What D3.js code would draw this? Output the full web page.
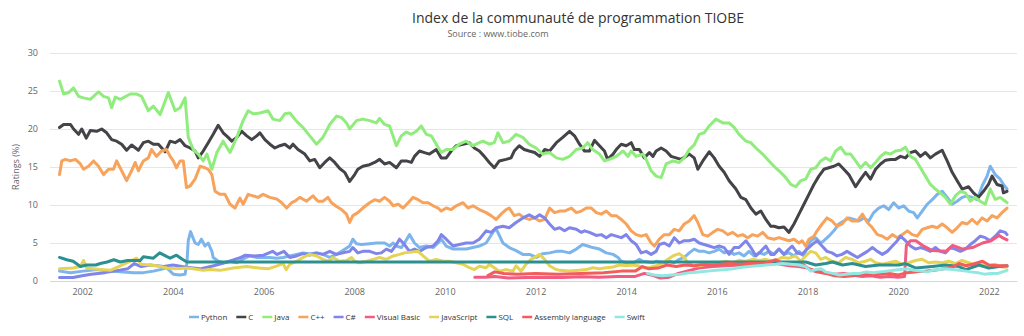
<!DOCTYPE html>
<html>
<head>
<meta charset="utf-8">
<script src="https://cdnjs.cloudflare.com/ajax/libs/d3/7.8.5/d3.min.js"></script>
<style>
  body { margin: 0; background: #fff; }
  text { font-family: "Open Sans", sans-serif; }
</style>
</head>
<body>
<svg id="chart" width="1024" height="336"></svg>
<script>
// TIOBE ratings (%) per language, [decimal year, rating]
var python = [[2001.50,1.3],[2001.74,1.1],[2002.03,1.3],[2002.32,1.5],[2002.62,1.3],[2002.91,1.2],[2003.13,1.1],[2003.35,1.1],[2003.57,1.3],[2003.72,1.5],[2003.86,1.75],[2003.94,1.3],[2004.01,0.9],[2004.15,0.8],[2004.27,0.9],[2004.31,2.4],[2004.34,5.3],[2004.39,6.5],[2004.49,5.0],[2004.56,4.8],[2004.63,5.5],[2004.71,4.6],[2004.78,5.0],[2004.86,3.9],[2004.89,3.1],[2005.00,2.6],[2005.11,2.4],[2005.26,2.6],[2005.41,2.4],[2005.55,2.9],[2005.70,3.3],[2005.85,3.1],[2005.99,3.1],[2006.14,3.1],[2006.29,3.0],[2006.43,3.1],[2006.58,3.3],[2006.73,3.5],[2006.87,3.7],[2007.02,3.6],[2007.17,3.7],[2007.31,3.5],[2007.46,3.1],[2007.61,3.5],[2007.75,4.0],[2007.90,4.6],[2007.97,5.5],[2008.05,4.9],[2008.16,4.8],[2008.34,4.9],[2008.49,5.0],[2008.67,5.0],[2008.78,4.6],[2008.86,5.0],[2008.93,4.6],[2009.04,4.4],[2009.11,5.0],[2009.22,6.1],[2009.33,5.0],[2009.44,4.4],[2009.59,4.6],[2009.74,4.4],[2009.85,5.0],[2009.92,5.5],[2010.03,4.6],[2010.18,4.2],[2010.32,4.2],[2010.47,4.2],[2010.62,4.4],[2010.76,4.6],[2010.91,5.0],[2011.06,6.4],[2011.13,6.9],[2011.28,5.0],[2011.42,4.4],[2011.57,4.0],[2011.72,3.5],[2011.87,3.5],[2012.02,3.1],[2012.16,3.6],[2012.31,3.7],[2012.46,3.9],[2012.60,3.9],[2012.75,3.7],[2012.90,4.2],[2013.04,4.8],[2013.15,4.6],[2013.26,4.4],[2013.41,4.2],[2013.56,3.7],[2013.71,3.5],[2013.82,3.1],[2013.89,2.6],[2014.00,2.4],[2014.11,2.2],[2014.22,2.6],[2014.29,2.85],[2014.37,2.6],[2014.48,2.5],[2014.59,2.4],[2014.66,2.6],[2014.77,2.5],[2014.88,2.4],[2014.95,2.6],[2015.06,2.4],[2015.17,2.85],[2015.28,3.1],[2015.39,3.7],[2015.50,4.2],[2015.61,3.9],[2015.72,3.9],[2015.83,3.7],[2015.94,3.9],[2016.05,4.2],[2016.16,3.7],[2016.27,3.9],[2016.38,3.5],[2016.49,3.7],[2016.60,3.3],[2016.71,3.9],[2016.82,3.3],[2016.93,3.7],[2017.04,3.5],[2017.15,3.9],[2017.26,3.5],[2017.37,4.2],[2017.48,3.5],[2017.59,3.7],[2017.70,3.3],[2017.81,3.9],[2017.92,3.3],[2017.99,4.4],[2018.07,5.3],[2018.18,5.7],[2018.29,5.0],[2018.36,5.3],[2018.47,5.9],[2018.58,6.6],[2018.69,7.5],[2018.80,7.9],[2018.91,8.3],[2019.02,8.1],[2019.13,7.9],[2019.24,8.3],[2019.35,7.9],[2019.46,9.0],[2019.57,9.6],[2019.68,9.9],[2019.79,9.4],[2019.90,10.3],[2020.01,9.6],[2020.12,9.9],[2020.23,9.2],[2020.34,9.0],[2020.42,8.3],[2020.53,9.2],[2020.64,10.1],[2020.75,10.7],[2020.86,11.4],[2020.97,11.8],[2021.08,11.0],[2021.19,10.1],[2021.30,10.5],[2021.41,11.0],[2021.52,11.2],[2021.63,11.0],[2021.74,10.7],[2021.85,12.5],[2021.96,13.8],[2022.03,15.1],[2022.14,14.0],[2022.25,13.4],[2022.32,12.7],[2022.40,12.1]];

var langC = [[2001.50,20.2],[2001.59,20.6],[2001.74,20.6],[2001.81,20.0],[2001.92,19.3],[2001.99,20.0],[2002.09,18.8],[2002.18,19.8],[2002.32,19.7],[2002.43,20.0],[2002.54,19.5],[2002.65,18.6],[2002.76,18.4],[2002.87,18.0],[2002.98,17.2],[2003.09,17.9],[2003.24,17.2],[2003.35,18.2],[2003.46,18.4],[2003.57,18.0],[2003.68,18.0],[2003.83,17.0],[2003.94,18.4],[2004.05,18.2],[2004.16,18.6],[2004.27,17.8],[2004.38,17.5],[2004.49,17.1],[2004.56,16.2],[2004.67,17.1],[2004.78,18.2],[2004.89,19.3],[2005.00,20.5],[2005.11,19.5],[2005.22,18.9],[2005.30,18.4],[2005.41,18.9],[2005.52,19.7],[2005.63,19.1],[2005.74,18.6],[2005.85,19.1],[2005.92,19.5],[2006.03,18.6],[2006.14,18.0],[2006.25,17.5],[2006.36,17.8],[2006.47,18.0],[2006.58,17.5],[2006.65,18.0],[2006.76,17.3],[2006.91,16.7],[2007.02,15.8],[2007.13,16.0],[2007.24,14.9],[2007.35,15.6],[2007.46,16.2],[2007.57,15.6],[2007.68,14.8],[2007.79,14.3],[2007.90,13.1],[2008.01,14.0],[2008.08,14.7],[2008.19,15.1],[2008.34,15.3],[2008.45,15.6],[2008.56,16.0],[2008.67,15.4],[2008.78,15.6],[2008.93,14.9],[2009.04,15.8],[2009.15,15.8],[2009.26,15.6],[2009.33,16.4],[2009.44,17.1],[2009.55,16.9],[2009.66,16.7],[2009.81,17.3],[2009.92,16.2],[2010.03,16.2],[2010.14,17.1],[2010.25,17.8],[2010.40,18.0],[2010.54,18.2],[2010.65,17.5],[2010.76,17.1],[2010.87,16.4],[2010.98,15.6],[2011.09,14.9],[2011.20,15.8],[2011.35,16.0],[2011.46,16.2],[2011.53,17.1],[2011.64,17.8],[2011.75,17.3],[2011.86,17.1],[2011.98,16.9],[2012.09,16.4],[2012.20,17.3],[2012.31,17.1],[2012.46,18.2],[2012.60,18.9],[2012.75,19.7],[2012.86,19.1],[2012.97,18.0],[2013.08,17.1],[2013.19,17.1],[2013.30,18.5],[2013.41,17.8],[2013.52,17.1],[2013.59,16.0],[2013.71,16.7],[2013.78,17.3],[2013.89,18.0],[2014.00,17.8],[2014.11,18.2],[2014.18,17.3],[2014.29,17.3],[2014.40,16.2],[2014.51,16.9],[2014.59,16.4],[2014.66,17.1],[2014.77,17.5],[2014.88,17.1],[2014.99,16.4],[2015.10,16.2],[2015.21,16.0],[2015.32,16.4],[2015.39,16.7],[2015.50,16.2],[2015.58,14.7],[2015.69,15.8],[2015.83,17.0],[2015.94,16.2],[2016.05,15.1],[2016.16,14.3],[2016.27,13.2],[2016.42,12.1],[2016.53,11.0],[2016.64,10.7],[2016.75,9.6],[2016.86,8.8],[2016.97,9.2],[2017.08,8.1],[2017.19,7.2],[2017.26,7.2],[2017.37,7.0],[2017.48,7.1],[2017.59,6.4],[2017.70,7.5],[2017.81,8.8],[2017.92,10.1],[2018.03,11.4],[2018.14,12.7],[2018.25,13.8],[2018.36,14.7],[2018.47,14.9],[2018.58,15.1],[2018.69,15.4],[2018.80,14.7],[2018.91,14.0],[2019.06,12.4],[2019.17,13.4],[2019.28,14.3],[2019.39,13.4],[2019.50,14.7],[2019.61,15.4],[2019.72,15.9],[2019.83,16.0],[2019.94,16.0],[2020.05,16.4],[2020.16,16.2],[2020.27,16.9],[2020.38,17.1],[2020.49,16.4],[2020.60,16.9],[2020.71,16.2],[2020.82,16.7],[2020.97,17.2],[2021.08,15.8],[2021.19,14.3],[2021.30,13.2],[2021.41,12.1],[2021.55,12.4],[2021.66,11.6],[2021.77,11.0],[2021.88,11.8],[2021.99,12.7],[2022.07,13.8],[2022.18,12.7],[2022.29,12.5],[2022.32,11.6],[2022.40,11.8]];

var java = [[2001.50,26.3],[2001.59,24.6],[2001.70,24.8],[2001.81,25.4],[2001.92,24.3],[2002.03,24.1],[2002.18,23.9],[2002.36,24.9],[2002.47,24.3],[2002.58,24.1],[2002.65,22.8],[2002.73,24.2],[2002.84,23.9],[2003.06,24.6],[2003.20,24.6],[2003.31,24.3],[2003.46,22.4],[2003.57,23.0],[2003.72,21.9],[2003.90,24.8],[2004.05,22.4],[2004.16,22.8],[2004.27,24.1],[2004.34,18.9],[2004.45,17.3],[2004.56,16.7],[2004.67,15.8],[2004.75,16.7],[2004.86,14.7],[2004.97,16.9],[2005.11,18.4],[2005.26,16.9],[2005.41,18.9],[2005.55,21.1],[2005.66,22.4],[2005.77,22.0],[2005.92,22.1],[2006.10,22.4],[2006.21,21.3],[2006.36,21.1],[2006.47,22.0],[2006.58,22.1],[2006.73,21.0],[2006.87,20.2],[2007.02,19.1],[2007.17,18.0],[2007.31,18.9],[2007.46,20.6],[2007.61,21.7],[2007.72,21.5],[2007.83,20.8],[2007.90,20.0],[2008.05,21.1],[2008.19,21.3],[2008.34,21.1],[2008.49,20.8],[2008.56,21.4],[2008.67,20.6],[2008.78,20.4],[2008.93,17.8],[2009.04,19.1],[2009.15,19.6],[2009.26,19.3],[2009.37,19.7],[2009.48,20.4],[2009.59,19.3],[2009.70,19.1],[2009.81,18.0],[2009.92,16.9],[2010.03,17.3],[2010.18,17.3],[2010.32,18.0],[2010.47,18.4],[2010.62,17.8],[2010.76,18.2],[2010.84,18.4],[2010.98,18.0],[2011.09,18.2],[2011.17,19.5],[2011.28,18.2],[2011.42,18.4],[2011.57,19.3],[2011.72,18.9],[2011.86,18.0],[2012.01,17.5],[2012.16,16.7],[2012.31,16.9],[2012.46,16.2],[2012.60,16.0],[2012.75,16.4],[2012.90,17.3],[2013.04,17.5],[2013.15,18.2],[2013.26,17.3],[2013.41,16.7],[2013.52,15.8],[2013.63,16.0],[2013.78,16.4],[2013.93,17.1],[2014.04,16.4],[2014.11,17.1],[2014.22,16.4],[2014.37,16.7],[2014.44,16.0],[2014.55,14.5],[2014.66,13.8],[2014.77,13.6],[2014.88,15.4],[2015.03,15.8],[2015.17,15.6],[2015.28,16.2],[2015.39,17.3],[2015.50,17.9],[2015.61,19.3],[2015.72,19.5],[2015.83,20.4],[2015.98,21.3],[2016.13,20.8],[2016.27,20.8],[2016.38,20.2],[2016.49,19.3],[2016.64,18.4],[2016.75,18.2],[2016.86,17.5],[2017.01,16.7],[2017.15,15.8],[2017.26,15.1],[2017.37,14.5],[2017.52,13.6],[2017.63,12.7],[2017.74,12.4],[2017.85,13.2],[2017.96,13.4],[2018.07,14.7],[2018.18,14.9],[2018.29,15.8],[2018.40,16.2],[2018.51,15.8],[2018.62,17.1],[2018.73,17.6],[2018.84,16.7],[2018.95,16.7],[2019.06,15.8],[2019.17,14.9],[2019.28,15.6],[2019.39,14.9],[2019.50,15.6],[2019.61,16.4],[2019.72,16.9],[2019.83,16.7],[2019.94,17.1],[2020.05,17.2],[2020.16,17.6],[2020.27,16.4],[2020.38,16.0],[2020.49,14.9],[2020.60,13.8],[2020.71,12.7],[2020.82,12.1],[2020.93,11.6],[2021.04,11.0],[2021.15,10.1],[2021.26,11.2],[2021.37,11.8],[2021.48,11.6],[2021.59,10.5],[2021.70,11.0],[2021.81,10.5],[2021.92,10.1],[2022.03,12.1],[2022.14,10.75],[2022.25,11.0],[2022.36,10.5],[2022.40,10.3]];

var cpp = [[2001.50,14.0],[2001.55,15.8],[2001.63,16.0],[2001.74,15.8],[2001.85,16.0],[2001.96,15.4],[2002.03,14.7],[2002.14,15.1],[2002.25,15.8],[2002.36,15.1],[2002.47,14.0],[2002.58,14.7],[2002.69,14.7],[2002.76,15.8],[2002.87,14.5],[2002.98,13.2],[2003.09,14.5],[2003.17,15.6],[2003.24,14.5],[2003.35,15.8],[2003.46,16.2],[2003.53,17.3],[2003.64,16.4],[2003.75,17.1],[2003.86,17.3],[2003.94,16.4],[2004.01,15.8],[2004.08,14.9],[2004.16,15.8],[2004.23,15.8],[2004.30,12.3],[2004.38,12.5],[2004.49,13.4],[2004.60,15.1],[2004.71,14.9],[2004.78,14.7],[2004.86,14.0],[2004.93,11.8],[2005.04,11.4],[2005.15,11.4],[2005.26,10.1],[2005.37,9.6],[2005.48,10.9],[2005.55,10.1],[2005.66,11.4],[2005.77,11.2],[2005.88,11.0],[2005.99,11.4],[2006.14,11.0],[2006.29,10.8],[2006.40,10.3],[2006.51,9.6],[2006.62,10.3],[2006.69,10.5],[2006.80,11.0],[2006.95,10.5],[2007.09,11.2],[2007.20,10.5],[2007.31,10.5],[2007.42,11.0],[2007.50,10.3],[2007.61,9.8],[2007.72,9.4],[2007.83,8.8],[2007.90,7.7],[2007.97,8.6],[2008.08,9.0],[2008.19,9.6],[2008.34,10.3],[2008.45,10.7],[2008.56,10.5],[2008.67,11.0],[2008.78,10.5],[2008.86,9.9],[2008.97,10.1],[2009.08,9.6],[2009.19,10.3],[2009.30,11.0],[2009.41,10.7],[2009.52,10.3],[2009.63,10.3],[2009.74,9.9],[2009.85,9.6],[2009.92,9.2],[2010.03,9.6],[2010.14,9.4],[2010.25,9.9],[2010.40,10.3],[2010.51,9.6],[2010.62,9.9],[2010.76,9.4],[2010.91,9.0],[2011.02,8.6],[2011.13,8.1],[2011.24,8.8],[2011.35,9.4],[2011.42,9.6],[2011.53,8.6],[2011.64,8.8],[2011.75,8.3],[2011.86,8.1],[2011.98,8.3],[2012.09,7.9],[2012.20,8.1],[2012.31,9.6],[2012.42,9.0],[2012.53,9.2],[2012.64,9.2],[2012.79,9.6],[2012.90,9.0],[2013.01,9.2],[2013.12,9.6],[2013.23,9.6],[2013.34,9.0],[2013.45,8.8],[2013.56,9.2],[2013.67,8.6],[2013.78,8.6],[2013.89,8.1],[2014.00,7.5],[2014.11,6.6],[2014.22,6.1],[2014.33,5.9],[2014.44,6.1],[2014.55,5.0],[2014.62,4.6],[2014.73,5.5],[2014.84,6.1],[2014.95,6.1],[2015.06,6.8],[2015.17,6.6],[2015.28,7.5],[2015.39,7.9],[2015.50,8.6],[2015.58,7.7],[2015.69,6.1],[2015.80,5.9],[2015.91,6.4],[2016.02,6.8],[2016.13,6.6],[2016.24,6.1],[2016.35,6.4],[2016.46,5.9],[2016.57,6.1],[2016.68,5.7],[2016.79,6.1],[2016.90,5.9],[2017.01,6.4],[2017.12,5.7],[2017.26,5.5],[2017.37,5.7],[2017.48,5.5],[2017.59,5.3],[2017.70,5.5],[2017.81,5.0],[2017.88,5.3],[2017.96,4.6],[2018.03,5.5],[2018.14,5.9],[2018.21,6.6],[2018.32,7.5],[2018.43,8.3],[2018.54,7.9],[2018.65,7.2],[2018.76,7.5],[2018.87,8.3],[2018.98,7.9],[2019.10,7.9],[2019.21,8.8],[2019.32,7.7],[2019.43,7.0],[2019.54,6.1],[2019.65,5.9],[2019.76,5.5],[2019.87,6.1],[2019.98,5.7],[2020.09,6.1],[2020.20,6.6],[2020.31,6.1],[2020.42,5.9],[2020.53,6.8],[2020.64,7.0],[2020.75,7.2],[2020.86,7.0],[2020.97,7.5],[2021.08,7.0],[2021.19,6.4],[2021.30,7.0],[2021.41,7.7],[2021.52,7.5],[2021.63,8.1],[2021.74,7.5],[2021.85,8.3],[2021.96,7.9],[2022.07,8.6],[2022.18,8.3],[2022.29,9.0],[2022.40,9.6]];

var csharp = [[2001.50,0.45],[2001.80,0.45],[2002.00,0.7],[2002.20,0.9],[2002.50,1.1],[2002.80,1.4],[2003.00,1.6],[2003.15,2.3],[2003.30,1.9],[2003.50,2.1],[2003.80,1.9],[2004.00,2.1],[2004.30,1.8],[2004.60,1.6],[2004.90,2.0],[2005.20,2.5],[2005.35,2.8],[2005.50,3.1],[2005.60,3.4],[2005.80,3.3],[2006.00,3.4],[2006.20,3.9],[2006.30,3.5],[2006.45,3.9],[2006.58,3.1],[2006.73,3.3],[2006.87,3.6],[2007.02,3.4],[2007.17,3.7],[2007.31,3.5],[2007.46,3.9],[2007.61,3.5],[2007.75,3.7],[2007.90,3.9],[2007.97,4.4],[2008.08,3.7],[2008.19,3.9],[2008.34,3.9],[2008.49,3.6],[2008.60,3.7],[2008.71,4.2],[2008.82,3.9],[2008.93,4.8],[2009.00,5.5],[2009.11,4.8],[2009.22,3.9],[2009.33,4.2],[2009.44,3.9],[2009.59,4.4],[2009.74,4.6],[2009.85,5.3],[2009.92,6.1],[2010.03,5.5],[2010.18,4.6],[2010.32,4.8],[2010.47,5.0],[2010.62,5.0],[2010.76,5.5],[2010.91,6.6],[2011.02,6.4],[2011.13,7.0],[2011.28,7.2],[2011.42,7.0],[2011.57,7.7],[2011.72,8.3],[2011.86,8.7],[2011.98,8.3],[2012.09,8.7],[2012.20,8.3],[2012.31,7.5],[2012.42,6.8],[2012.53,7.0],[2012.64,6.6],[2012.75,7.0],[2012.90,6.8],[2013.01,6.4],[2013.08,6.6],[2013.19,6.4],[2013.34,6.0],[2013.45,6.1],[2013.56,5.7],[2013.67,6.1],[2013.78,5.9],[2013.89,5.7],[2014.00,6.1],[2014.11,5.3],[2014.22,4.8],[2014.33,3.7],[2014.44,3.9],[2014.55,3.5],[2014.66,3.9],[2014.73,4.8],[2014.84,5.0],[2014.95,4.6],[2015.06,5.7],[2015.17,5.0],[2015.28,5.3],[2015.39,5.3],[2015.50,5.5],[2015.61,5.0],[2015.72,4.8],[2015.83,4.6],[2015.94,4.4],[2016.05,4.6],[2016.16,4.4],[2016.27,3.5],[2016.38,4.4],[2016.49,4.4],[2016.64,5.3],[2016.75,4.4],[2016.86,3.3],[2016.97,3.9],[2017.08,4.6],[2017.19,3.5],[2017.26,3.5],[2017.37,4.2],[2017.48,3.5],[2017.59,4.2],[2017.66,4.6],[2017.77,3.7],[2017.88,3.5],[2017.99,4.2],[2018.10,4.8],[2018.21,5.3],[2018.32,4.6],[2018.43,3.9],[2018.54,3.7],[2018.65,3.3],[2018.76,3.5],[2018.87,3.9],[2018.98,3.5],[2019.10,3.1],[2019.21,3.5],[2019.32,3.9],[2019.43,4.4],[2019.54,3.9],[2019.65,3.5],[2019.76,3.9],[2019.87,4.6],[2019.98,5.3],[2020.05,5.9],[2020.16,5.3],[2020.27,4.6],[2020.38,4.2],[2020.49,4.4],[2020.60,4.2],[2020.71,3.9],[2020.82,4.4],[2020.93,3.9],[2021.04,3.7],[2021.15,4.4],[2021.26,4.2],[2021.37,3.9],[2021.48,4.2],[2021.59,4.8],[2021.70,5.3],[2021.81,5.9],[2021.92,5.7],[2022.03,5.3],[2022.14,5.9],[2022.25,6.6],[2022.36,6.4],[2022.40,6.1]];

var visualBasic = [[2010.66,0.5],[2010.90,0.5],[2011.10,0.6],[2011.40,0.4],[2011.80,0.45],[2012.20,0.5],[2012.60,0.45],[2013.00,0.55],[2013.40,0.5],[2013.80,0.6],[2014.20,0.6],[2014.40,1.0],[2014.55,0.8],[2014.75,0.4],[2014.95,0.5],[2015.15,1.0],[2015.40,1.4],[2015.60,1.7],[2015.90,1.9],[2016.20,2.0],[2016.50,2.1],[2016.80,2.2],[2017.00,2.3],[2017.20,2.5],[2017.40,2.2],[2017.60,2.0],[2017.80,1.9],[2018.00,1.7],[2018.20,1.3],[2018.40,1.1],[2018.60,0.9],[2018.80,1.0],[2019.00,0.8],[2019.20,0.6],[2019.40,0.7],[2019.60,0.5],[2019.80,0.6],[2020.00,0.5],[2020.14,0.6],[2020.18,4.7],[2020.27,5.3],[2020.39,5.3],[2020.53,4.7],[2020.75,4.0],[2021.05,3.9],[2021.20,4.7],[2021.42,4.2],[2021.64,4.4],[2021.86,5.0],[2022.05,5.3],[2022.22,6.0],[2022.33,5.6],[2022.40,5.4]];

var javascript = [[2001.50,1.6],[2001.80,1.7],[2001.96,1.9],[2002.03,2.7],[2002.10,1.7],[2002.40,1.5],[2002.62,1.4],[2002.84,2.0],[2003.06,2.6],[2003.20,3.0],[2003.30,2.2],[2003.64,2.0],[2003.87,1.7],[2004.05,1.6],[2004.31,1.7],[2004.45,1.6],[2004.67,1.4],[2004.82,1.5],[2005.04,1.4],[2005.33,1.7],[2005.63,1.9],[2005.90,1.7],[2006.10,1.6],[2006.30,2.0],[2006.43,2.3],[2006.50,1.5],[2006.58,2.2],[2006.73,2.6],[2006.87,3.1],[2007.02,3.5],[2007.17,3.3],[2007.31,2.85],[2007.42,2.6],[2007.53,3.1],[2007.68,2.6],[2007.83,2.7],[2007.94,3.1],[2008.01,2.6],[2008.12,2.4],[2008.27,2.6],[2008.42,2.85],[2008.56,3.1],[2008.71,2.85],[2008.86,3.3],[2009.00,3.5],[2009.11,3.7],[2009.26,3.8],[2009.41,3.9],[2009.52,3.3],[2009.66,2.6],[2009.81,2.85],[2009.96,2.6],[2010.10,2.6],[2010.25,2.4],[2010.40,2.2],[2010.54,1.75],[2010.65,1.5],[2010.76,1.95],[2010.91,1.75],[2010.98,2.2],[2011.09,1.75],[2011.20,1.3],[2011.35,1.5],[2011.50,1.3],[2011.57,2.0],[2011.68,1.3],[2011.79,2.2],[2011.90,2.85],[2011.98,3.1],[2012.09,3.5],[2012.20,2.85],[2012.31,2.0],[2012.42,1.6],[2012.53,1.4],[2012.75,1.3],[2012.97,1.4],[2013.12,1.5],[2013.26,1.75],[2013.41,1.6],[2013.56,1.75],[2013.71,1.85],[2013.85,2.1],[2014.00,2.0],[2014.11,2.1],[2014.26,2.0],[2014.40,1.75],[2014.51,1.75],[2014.66,2.0],[2014.81,2.4],[2014.92,2.85],[2015.03,3.3],[2015.17,3.6],[2015.28,3.1],[2015.36,2.4],[2015.47,2.0],[2015.61,2.0],[2015.76,2.2],[2015.91,2.3],[2016.05,2.4],[2016.20,2.6],[2016.35,2.4],[2016.49,2.7],[2016.64,2.6],[2016.79,2.85],[2016.93,2.7],[2017.08,2.85],[2017.23,2.6],[2017.30,2.7],[2017.44,3.1],[2017.59,3.0],[2017.74,3.3],[2017.85,2.6],[2017.96,3.3],[2018.07,3.9],[2018.18,3.7],[2018.29,2.85],[2018.40,3.1],[2018.54,2.6],[2018.69,2.4],[2018.84,3.1],[2018.98,2.85],[2019.13,2.4],[2019.28,2.6],[2019.39,2.85],[2019.50,2.4],[2019.65,2.2],[2019.79,2.4],[2019.94,2.6],[2020.09,2.2],[2020.23,2.4],[2020.38,2.7],[2020.53,2.85],[2020.67,2.4],[2020.82,2.5],[2020.97,2.4],[2021.11,2.6],[2021.26,2.3],[2021.41,2.7],[2021.55,2.4],[2021.70,2.1],[2021.85,2.2],[2021.99,2.0],[2022.14,2.2],[2022.29,1.85],[2022.40,1.85]];

var sql = [[2001.50,3.1],[2001.66,2.8],[2001.80,2.6],[2001.96,1.9],[2002.10,2.1],[2002.30,2.1],[2002.40,2.3],[2002.55,2.5],[2002.70,2.8],[2002.84,2.5],[2003.00,2.7],[2003.15,2.7],[2003.28,2.7],[2003.35,3.2],[2003.57,3.0],[2003.71,3.7],[2003.87,3.2],[2003.94,3.0],[2004.08,3.4],[2004.20,2.9],[2004.31,2.5],[2017.96,2.5],[2018.18,2.1],[2018.40,2.3],[2018.55,2.5],[2018.77,2.1],[2018.99,2.3],[2019.28,1.9],[2019.58,2.1],[2019.72,2.1],[2020.02,2.1],[2020.16,2.3],[2020.39,1.7],[2020.75,1.9],[2021.05,2.1],[2021.34,1.9],[2021.49,1.5],[2021.78,2.1],[2022.00,1.7],[2022.22,1.9],[2022.40,2.0]];

var assembly = [[2010.95,0.7],[2011.10,1.2],[2011.30,1.0],[2011.60,0.9],[2012.00,1.0],[2012.50,0.9],[2013.00,1.0],[2013.50,1.1],[2013.90,1.3],[2014.20,1.3],[2014.36,1.9],[2014.50,1.6],[2014.70,1.7],[2014.90,2.1],[2015.10,1.9],[2015.30,2.1],[2015.50,2.0],[2015.70,2.2],[2015.90,2.1],[2016.10,2.2],[2016.30,2.3],[2016.50,2.2],[2016.70,2.3],[2016.90,2.3],[2017.10,2.4],[2017.30,2.8],[2017.45,2.3],[2017.70,2.1],[2017.90,2.2],[2018.05,1.5],[2018.20,1.2],[2018.40,1.0],[2018.60,0.7],[2018.80,0.6],[2019.00,0.7],[2019.20,0.9],[2019.40,0.8],[2019.60,0.9],[2019.80,1.0],[2020.00,0.8],[2020.20,1.1],[2020.40,1.2],[2020.60,1.3],[2020.80,1.4],[2021.00,1.6],[2021.20,1.8],[2021.34,2.3],[2021.50,2.0],[2021.64,2.2],[2021.86,2.6],[2022.00,2.1],[2022.20,2.0],[2022.40,2.0]];

var swift = [[2014.47,1.0],[2014.62,0.8],[2014.80,0.7],[2015.00,0.8],[2015.20,0.9],[2015.40,1.1],[2015.61,1.2],[2015.80,1.3],[2015.98,1.4],[2016.20,1.5],[2016.35,1.6],[2016.55,1.8],[2016.71,1.9],[2016.90,2.0],[2017.08,2.1],[2017.30,2.2],[2017.45,2.3],[2017.62,2.2],[2017.81,2.1],[2017.96,1.9],[2018.07,1.3],[2018.18,1.5],[2018.30,1.6],[2018.40,1.2],[2018.55,1.0],[2018.70,0.8],[2018.85,0.9],[2019.00,1.0],[2019.15,1.0],[2019.30,1.2],[2019.45,1.1],[2019.60,1.2],[2019.75,1.3],[2019.90,1.4],[2020.05,1.5],[2020.20,1.6],[2020.35,1.4],[2020.50,1.3],[2020.65,1.2],[2020.75,1.4],[2020.90,1.5],[2021.05,1.6],[2021.20,1.5],[2021.35,1.4],[2021.50,1.3],[2021.60,1.2],[2021.75,1.1],[2021.90,0.9],[2022.05,1.0],[2022.20,1.0],[2022.30,1.2],[2022.40,1.4]];

var languages = ["Python", "C", "Java", "C++", "C#", "Visual Basic", "JavaScript", "SQL", "Assembly language", "Swift"];
var seriesData = [python, langC, java, cpp, csharp, visualBasic, javascript, sql, assembly, swift];
var colors = ["#7cb5ec", "#434348", "#90ed7d", "#f7a35c", "#8085e9", "#f15c80", "#e4d354", "#2b908f", "#f45b5b", "#91e8e1"];

var yearTicks = [2002, 2004, 2006, 2008, 2010, 2012, 2014, 2016, 2018, 2020, 2022];
var ratingTicks = [0, 5, 10, 15, 20, 25, 30];

var titleText = "Index de la communauté de programmation TIOBE";
var subtitleText = "Source : www.tiobe.com";
var yTitle = "Ratings (%)";

var svgWidth = 1024;
var svgHeight = 336;
var plotLeft = 50, plotRight = 1017, plotTop = 53, plotBottom = 281;

var svg = d3.select("#chart")
  .attr("width", svgWidth)
  .attr("height", svgHeight);

var x = d3.scaleLinear().domain([2001.29, 2022.62]).range([plotLeft, plotRight]);
var y = d3.scaleLinear().domain([0, 30]).range([plotBottom, plotTop]);

// titles
svg.append("text")
  .attr("x", 578)
  .attr("y", 23)
  .attr("text-anchor", "middle")
  .style("font-size", "14px")
  .style("fill", "#333333")
  .text(titleText);

svg.append("text")
  .attr("x", 498)
  .attr("y", 37)
  .attr("text-anchor", "middle")
  .style("font-size", "9px")
  .style("fill", "#666666")
  .text(subtitleText);

// horizontal grid + y labels
var yAxis = svg.append("g")
  .attr("transform", "translate(" + plotLeft + ",0)")
  .call(d3.axisLeft(y)
    .tickValues(ratingTicks)
    .tickSize(-(plotRight - plotLeft))
    .tickPadding(12));

yAxis.select(".domain").remove();
yAxis.selectAll("line").attr("stroke", "#e6e6e6");
yAxis.selectAll("text")
  .style("font-size", "9px")
  .style("fill", "#666666")
  .style("font-family", "'Open Sans', sans-serif");

svg.append("text")
  .attr("transform", "translate(16," + ((plotTop + plotBottom) / 2) + ") rotate(-90)")
  .attr("text-anchor", "middle")
  .attr("dy", "0.35em")
  .style("font-size", "9px")
  .style("fill", "#666666")
  .text(yTitle);

// x axis
var xAxis = svg.append("g")
  .attr("transform", "translate(0," + plotBottom + ")")
  .call(d3.axisBottom(x)
    .tickValues(yearTicks)
    .tickFormat(d3.format("d"))
    .tickSize(0)
    .tickPadding(8));

xAxis.select(".domain").attr("stroke", "#ccd6eb");
xAxis.selectAll("text")
  .style("font-size", "9px")
  .style("fill", "#666666")
  .style("font-family", "'Open Sans', sans-serif");

// the lines
var line = d3.line()
  .x(function (d) { return x(d[0]); })
  .y(function (d) { return y(d[1]); });

svg.append("g")
  .selectAll("path")
  .data(seriesData)
  .enter()
  .append("path")
  .attr("d", line)
  .attr("fill", "none")
  .attr("stroke", function (d, i) { return colors[i]; })
  .attr("stroke-width", 3)
  .attr("stroke-linejoin", "round")
  .attr("stroke-linecap", "round");

// legend, laid out left to right
var legend = svg.append("g").attr("transform", "translate(189,317)");
var cursor = 0;
languages.forEach(function (name, i) {
  var item = legend.append("g").attr("transform", "translate(" + cursor + ",0)");
  item.append("line")
    .attr("x1", 0).attr("x2", 10)
    .attr("y1", 0).attr("y2", 0)
    .attr("stroke", colors[i])
    .attr("stroke-width", 2.5);
  var label = item.append("text")
    .attr("x", 12)
    .attr("y", 3)
    .style("font-size", "8px")
    .style("fill", "#333333")
    .text(name);
  cursor += 12 + label.node().getComputedTextLength() + 9;
});
</script>
</body>
</html>
